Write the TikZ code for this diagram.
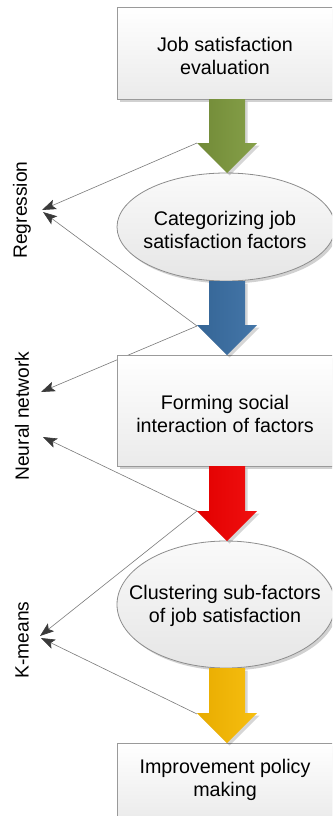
\documentclass[tikz,border=0pt]{standalone}
\usepackage{fontspec}
\setmainfont{Liberation Sans}
\usetikzlibrary{shapes.geometric,arrows.meta,shadows,calc}

\definecolor{boxline}{HTML}{9A9A9A}
\definecolor{ellline}{HTML}{8C8C8C}
\definecolor{linkgray}{HTML}{7A7A7A}
\definecolor{tipgray}{HTML}{3A3A3A}
\definecolor{greenA}{HTML}{718A37}
\definecolor{greenB}{HTML}{86A049}
\definecolor{blueA}{HTML}{356596}
\definecolor{blueB}{HTML}{4476A8}
\definecolor{redA}{HTML}{E20000}
\definecolor{redB}{HTML}{F01010}
\definecolor{yelA}{HTML}{E8AC00}
\definecolor{yelB}{HTML}{F7BE10}

\tikzset{
  softshadow/.style={drop shadow={opacity=0.18,shadow xshift=2.5pt,shadow yshift=-2.5pt,fill=black}},
  stepbox/.style={rectangle,draw=boxline,line width=0.8pt,minimum width=232pt,
    top color=white,bottom color=black!8,softshadow},
  stepell/.style={ellipse,draw=ellline,line width=0.8pt,minimum width=218pt,
    top color=black!2,bottom color=black!10,softshadow},
  steptext/.style={align=center,inner sep=0pt,font=\fontsize{19.7}{23.5}\selectfont},
  sidetext/.style={rotate=90,inner sep=0pt,font=\fontsize{19.2}{23}\selectfont},
  link/.style={draw=linkgray,line width=0.6pt,
    -{Stealth[length=14pt,width=10pt,inset=3pt,fill=tipgray,color=tipgray]}},
}

% block arrow from the bottom of one step to the top of the next
\newcommand{\flowarrow}[4]{%
  \path let \p1=(#1), \p2=(#2) in
    [fill=black,opacity=0.16]
    ($(\x2,\y1)+(-18+2.5,0+2.5)$) -- ($(\x2,\y2)+(-18+2.5,-30+2.5)$) --
    ($(\x2,\y2)+(-30+2.5,-30+2.5)$) -- ($(\x2,\y2)+(0+2.5,0+2.5)$) --
    ($(\x2,\y2)+(30+2.5,-30+2.5)$) -- ($(\x2,\y2)+(18+2.5,-30+2.5)$) --
    ($(\x2,\y1)+(18+2.5,0+2.5)$) -- cycle;
  \path let \p1=(#1), \p2=(#2) in
    [left color=#3,right color=#4]
    ($(\x2,\y1)+(-18,0)$) -- ($(\x2,\y2)+(-18,-30)$) --
    ($(\x2,\y2)+(-30,-30)$) -- (\x2,\y2) --
    ($(\x2,\y2)+(30,-30)$) -- ($(\x2,\y2)+(18,-30)$) --
    ($(\x2,\y1)+(18,0)$) -- cycle;
}

\begin{document}
\begin{tikzpicture}[x=1pt,y=-1pt]
  \useasboundingbox (0,0) rectangle (332,816);
  \clip (0,0) rectangle (332,816);

  % left-hand method labels
  \node[sidetext] (reg) at (22,210) {Regression};
  \node[sidetext] (nn)  at (22,416) {Neural network};
  \node[sidetext] (km)  at (22,640) {K-means};

  % corners of the block-arrow heads, where the links leave
  \coordinate (g) at (197,143);
  \coordinate (b) at (197,326);
  \coordinate (r) at (197,511);
  \coordinate (y) at (197,714);
  % link ends beside the labels
  \coordinate (regA) at (42,210);
  \coordinate (regB) at (43,212);
  \coordinate (nnA)  at (41,392);
  \coordinate (nnB)  at (43,437);
  \coordinate (kmA)  at (40,636);
  \coordinate (kmB)  at (41,638);

  \draw[link] (g) -- (regA);
  \draw[link] (b) -- (regB);
  \draw[link] (b) -- (nnA);
  \draw[link] (r) -- (nnB);
  \draw[link] (r) -- (kmA);
  \draw[link] (y) -- (kmB);

  % process steps
  \node[stepbox,minimum height=92pt]  (s1) at (233,53) {};
  \node[stepell,minimum height=108pt] (s2) at (226,227) {};
  \node[stepbox,minimum height=111pt] (s3) at (233,410.5) {};
  \node[stepell,minimum height=127pt] (s4) at (226,604.5) {};
  \node[stepbox,minimum height=78pt]  (s5) at (233,782) {};

  \node[steptext] (t1) at (225,56)  {Job satisfaction\\evaluation};
  \node[steptext] (t2) at (225,230) {Categorizing job\\satisfaction factors};
  \node[steptext] (t3) at (225,414) {Forming social\\interaction of factors};
  \node[steptext] (t4) at (225,606) {Clustering sub-factors\\of job satisfaction};
  \node[steptext] (t5) at (225,780) {Improvement policy\\making};

  % coloured flow arrows between the steps, centred on x = 227
  \coordinate (a1) at (227,99);  \coordinate (a2) at (227,173);
  \coordinate (a3) at (227,281); \coordinate (a4) at (227,355);
  \coordinate (a5) at (227,466); \coordinate (a6) at (227,541);
  \coordinate (a7) at (227,668); \coordinate (a8) at (227,743);
  \flowarrow{a1}{a2}{greenA}{greenB}
  \flowarrow{a3}{a4}{blueA}{blueB}
  \flowarrow{a5}{a6}{redA}{redB}
  \flowarrow{a7}{a8}{yelA}{yelB}
\end{tikzpicture}
\end{document}
